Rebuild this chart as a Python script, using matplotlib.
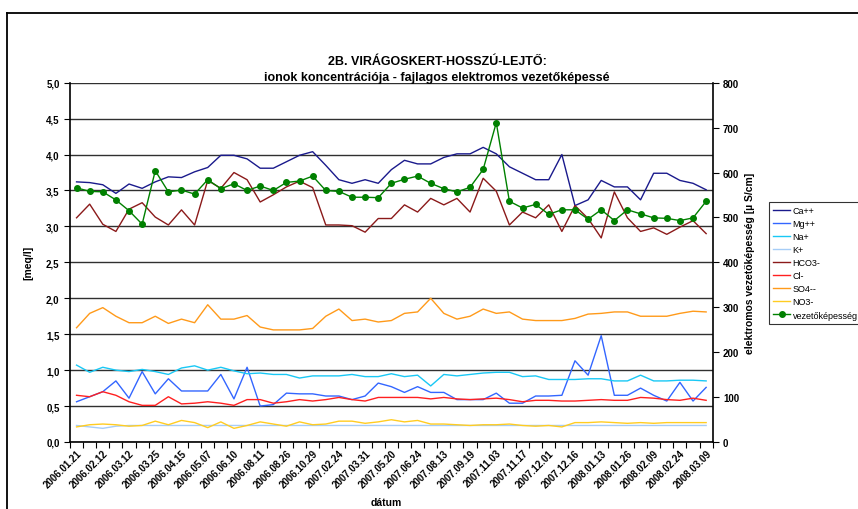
import matplotlib.pyplot as plt
from matplotlib.ticker import FuncFormatter, MultipleLocator
from matplotlib.lines import Line2D

plt.rcParams['font.family'] = ['Liberation Sans', 'DejaVu Sans']

# labels appear on every second sampling date
date_labels = ['2006.01.21', '2006.02.12', '2006.03.12', '2006.03.25', '2006.04.15',
               '2006.05.07', '2006.06.10', '2006.08.11', '2006.08.26', '2006.10.29',
               '2007.02.24', '2007.03.31', '2007.05.20', '2007.06.24', '2007.08.13',
               '2007.09.19', '2007.11.03', '2007.11.17', '2007.12.01', '2007.12.16',
               '2008.01.13', '2008.01.26', '2008.02.09', '2008.02.24', '2008.03.09']

# ion concentrations [meq/l]
ca = [3.62, 3.61, 3.58, 3.46, 3.59, 3.53, 3.62, 3.69, 3.68, 3.76, 3.82, 3.99, 3.99,
      3.94, 3.81, 3.81, 3.90, 3.99, 4.04, 3.85, 3.65, 3.60, 3.65, 3.60, 3.79, 3.92,
      3.87, 3.87, 3.96, 4.01, 4.01, 4.10, 4.01, 3.83, 3.74, 3.65, 3.65, 4.00, 3.29,
      3.37, 3.64, 3.55, 3.55, 3.37, 3.74, 3.74, 3.64, 3.60, 3.51]
mg = [0.56, 0.63, 0.70, 0.85, 0.61, 0.98, 0.67, 0.88, 0.71, 0.71, 0.71, 0.94, 0.60,
      1.04, 0.50, 0.52, 0.68, 0.67, 0.67, 0.64, 0.64, 0.59, 0.64, 0.82, 0.77, 0.69,
      0.77, 0.69, 0.69, 0.59, 0.59, 0.59, 0.68, 0.54, 0.54, 0.64, 0.64, 0.65, 1.13,
      0.93, 1.48, 0.65, 0.65, 0.75, 0.65, 0.57, 0.83, 0.57, 0.76]
na = [1.07, 0.97, 1.04, 1.00, 0.98, 1.01, 0.98, 0.94, 1.03, 1.06, 1.00, 1.04, 0.99,
      0.95, 0.96, 0.94, 0.94, 0.89, 0.92, 0.92, 0.92, 0.94, 0.91, 0.91, 0.95, 0.91,
      0.93, 0.78, 0.94, 0.92, 0.94, 0.96, 0.97, 0.97, 0.91, 0.92, 0.87, 0.87, 0.87,
      0.88, 0.88, 0.85, 0.85, 0.93, 0.85, 0.85, 0.86, 0.86, 0.85]
k = [0.23, 0.21, 0.19, 0.22, 0.23, 0.23, 0.23, 0.23, 0.23, 0.23, 0.23, 0.23, 0.23,
     0.23, 0.23, 0.23, 0.23, 0.23, 0.23, 0.23, 0.23, 0.23, 0.23, 0.23, 0.23, 0.23,
     0.23, 0.23, 0.23, 0.23, 0.23, 0.23, 0.23, 0.23, 0.23, 0.23, 0.23, 0.23, 0.23,
     0.23, 0.23, 0.23, 0.23, 0.23, 0.23, 0.23, 0.23, 0.23, 0.23]
hco3 = [3.12, 3.31, 3.03, 2.93, 3.24, 3.33, 3.13, 3.02, 3.23, 3.02, 3.64, 3.53, 3.75,
        3.65, 3.34, 3.44, 3.55, 3.63, 3.54, 3.02, 3.02, 3.01, 2.92, 3.11, 3.11, 3.30,
        3.20, 3.39, 3.30, 3.39, 3.20, 3.67, 3.49, 3.02, 3.20, 3.12, 3.30, 2.93, 3.29,
        3.11, 2.84, 3.48, 3.12, 2.93, 2.98, 2.89, 2.99, 3.08, 2.90]
cl = [0.65, 0.63, 0.70, 0.65, 0.56, 0.51, 0.51, 0.63, 0.53, 0.54, 0.56, 0.54, 0.51,
      0.59, 0.59, 0.54, 0.56, 0.59, 0.57, 0.59, 0.62, 0.59, 0.57, 0.62, 0.62, 0.62,
      0.62, 0.60, 0.62, 0.60, 0.59, 0.60, 0.61, 0.59, 0.56, 0.58, 0.58, 0.57, 0.57,
      0.58, 0.59, 0.58, 0.58, 0.62, 0.61, 0.59, 0.58, 0.61, 0.58]
so4 = [1.59, 1.79, 1.87, 1.75, 1.66, 1.66, 1.75, 1.65, 1.71, 1.66, 1.91, 1.71, 1.71,
       1.76, 1.60, 1.56, 1.56, 1.56, 1.58, 1.75, 1.85, 1.69, 1.71, 1.67, 1.69, 1.79,
       1.81, 2.00, 1.79, 1.71, 1.75, 1.85, 1.79, 1.81, 1.71, 1.69, 1.69, 1.69, 1.72,
       1.78, 1.79, 1.81, 1.81, 1.75, 1.75, 1.75, 1.79, 1.82, 1.81]
no3 = [0.21, 0.24, 0.25, 0.24, 0.22, 0.23, 0.29, 0.24, 0.30, 0.27, 0.20, 0.28, 0.19,
       0.23, 0.28, 0.25, 0.22, 0.28, 0.24, 0.25, 0.29, 0.29, 0.26, 0.28, 0.31, 0.28,
       0.30, 0.25, 0.25, 0.24, 0.23, 0.24, 0.24, 0.25, 0.23, 0.22, 0.23, 0.21, 0.27,
       0.27, 0.28, 0.27, 0.26, 0.27, 0.26, 0.27, 0.27, 0.27, 0.27]
# specific electrical conductance [uS/cm]
ec = [566, 558, 557, 539, 515, 485, 604, 557, 561, 552, 584, 564, 575, 560, 570, 560,
      578, 581, 592, 560, 558, 545, 545, 544, 576, 585, 592, 576, 564, 557, 567, 607,
      711, 536, 521, 529, 507, 517, 517, 496, 517, 493, 517, 508, 499, 498, 493, 499,
      536]

ions = [('Ca++', ca, '#1a1a8c'), ('Mg++', mg, '#3366ff'), ('Na+', na, '#19c8f5'),
        ('K+', k, '#a6cdf7'), ('HCO3-', hco3, '#8b1a1a'), ('Cl-', cl, '#ff2020'),
        ('SO4--', so4, '#ff9a1a'), ('NO3-', no3, '#ffcc22')]

n = len(ca)
x = list(range(n))

fig = plt.figure(figsize=(8.58, 5.10), dpi=100)
ax = fig.add_axes([70 / 858, 1 - 443 / 510, 642.7 / 858, 359.3 / 510])
ax2 = ax.twinx()

handles = []
for name, vals, col in ions:
    h, = ax.plot(x, vals, color=col, lw=1.0, label=name, zorder=3)
    handles.append(h)
h, = ax2.plot(x, ec, color='#008000', lw=1.0, marker='o', ms=4,
              label='vezetőképesség', zorder=3)
handles.append(h)

ax.set_xlim(-0.5, n - 0.5)
ax.set_ylim(0, 5)
ax2.set_ylim(0, 800)
ax.yaxis.set_major_locator(MultipleLocator(0.5))
ax.yaxis.set_major_formatter(FuncFormatter(lambda v, p: f'{v:.1f}'.replace('.', ',')))
ax2.yaxis.set_major_locator(MultipleLocator(100))
ax.grid(axis='y', color='#303030', lw=1.0)
ax.set_axisbelow(True)

ax.set_xticks([i - 0.5 for i in range(n + 1)])
ax.set_xticklabels([])
ax.set_xticks(list(range(0, n, 2)), minor=True)
ax.set_xticklabels(date_labels, minor=True, rotation=45, ha='right',
                   rotation_mode='anchor', fontsize=7, fontweight='bold')
ax.tick_params(axis='x', which='minor', length=0, pad=4)
ax.tick_params(axis='x', which='major', length=4, direction='out')

for a in (ax, ax2):
    a.tick_params(axis='y', labelsize=7, length=4, direction='out')
    for lbl in a.get_yticklabels():
        lbl.set_fontweight('bold')
    a.spines['top'].set_visible(False)
ax.spines['right'].set_visible(False)
for s in ('left', 'bottom'):
    ax.spines[s].set_linewidth(1.2)
ax2.spines['right'].set_linewidth(1.2)
ax2.spines['left'].set_visible(False)
ax2.spines['bottom'].set_visible(False)

ax.set_ylabel('[meq/l]', fontsize=7.5, fontweight='bold')
ax.yaxis.set_label_coords(-0.057, 0.5)
ax2.set_ylabel('elektromos vezetőképesség [µ S/cm]', fontsize=7.5,
               fontweight='bold')
ax2.yaxis.set_label_coords(1.05, 0.5)
fig.text(386 / 858, 1 - 503 / 510, 'dátum', ha='center', va='center',
         fontsize=7.5, fontweight='bold')

fig.text(437 / 858, 1 - 62 / 510, '2B. VIRÁGOSKERT-HOSSZÚ-LEJTŐ:', ha='center',
         va='center', fontsize=9, fontweight='bold')
fig.text(437 / 858, 1 - 78 / 510,
         'ionok koncentrációja - fajlagos elektromos vezetőképessé', ha='center',
         va='center', fontsize=9, fontweight='bold')

leg = fig.legend(handles=handles, loc='upper left',
                 bbox_to_anchor=(769 / 858, 1 - 203 / 510), fontsize=6.5,
                 frameon=True, fancybox=False, edgecolor='black',
                 handlelength=1.9, handletextpad=0.25, labelspacing=0.45,
                 borderpad=0.45, borderaxespad=0)
leg.get_frame().set_linewidth(0.8)

# chart area frame (only top and left edges fall inside the image)
fig.lines.append(Line2D([7 / 858, 1.0], [1 - 14 / 510, 1 - 14 / 510],
                        transform=fig.transFigure, color='black', lw=1.3))
fig.lines.append(Line2D([7 / 858, 7 / 858], [0.0, 1 - 14 / 510],
                        transform=fig.transFigure, color='black', lw=1.3))

fig.savefig('out.png', dpi=100)
